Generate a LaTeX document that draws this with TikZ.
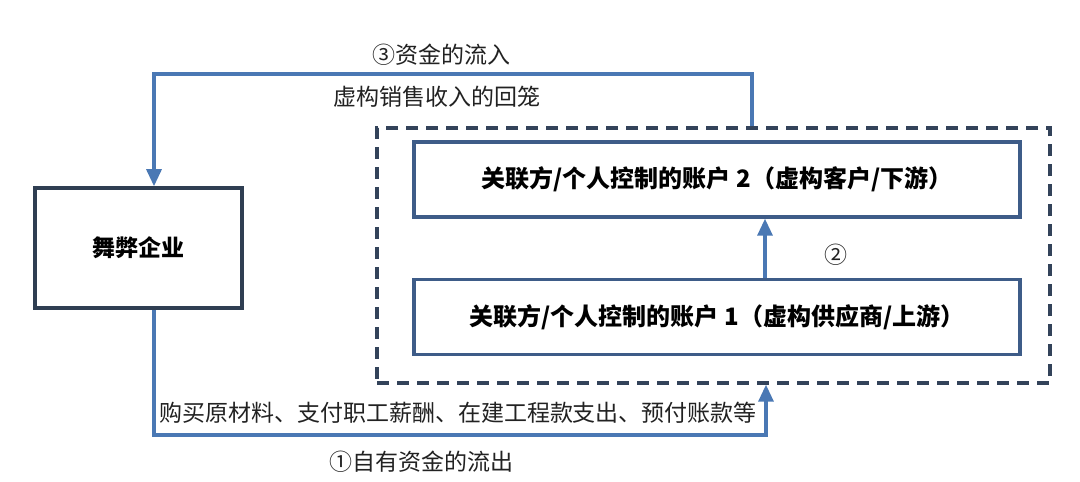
\documentclass[tikz,border=0pt]{standalone}
\usepackage{fontspec}
\newfontfamily\cjk{Noto Sans CJK SC}
\usetikzlibrary{arrows.meta}
\definecolor{flowblue}{HTML}{4A78B4}
\definecolor{navy}{HTML}{2F3E52}
\definecolor{boxblue}{HTML}{3E5C88}
\definecolor{dashnavy}{HTML}{33435A}
\definecolor{txt}{HTML}{222222}
\tikzset{
  flow/.style={draw=flowblue, line width=3.2pt},
  tip/.style={-{Triangle[width=15pt,length=17pt]}},
  entbox/.style={draw=navy, line width=3.6pt, minimum width=207pt, minimum height=120pt, inner sep=0pt, font=\cjk\bfseries\fontsize{23}{28}\selectfont, text=black},
  accbox/.style={draw=boxblue, line width=3.4pt, minimum width=606pt, minimum height=75pt, inner sep=0pt, font=\cjk\bfseries\fontsize{24}{28}\selectfont, text=black},
  grpbox/.style={draw=dashnavy, line width=3.4pt, dash pattern=on 12pt off 8pt, minimum width=673pt, minimum height=255pt, inner sep=0pt},
  lbl/.style={font=\cjk\fontsize{23}{28}\selectfont, text=txt, inner sep=0pt}
}
\begin{document}
\begin{tikzpicture}[x=1pt,y=-1pt]
\useasboundingbox[fill=white] (0,0) rectangle (1080,482);
\node[grpbox] (grp) at (713.5,255.5) {};
\node[entbox] (ent) at (138.5,248) {舞弊企业};
\node[accbox] (b2) at (717,179.5) {关联方/个人控制的账户 2（虚构客户/下游）};
\node[accbox] (b1) at (717,317) {关联方/个人控制的账户 1（虚构供应商/上游）};
\coordinate (a2) at (765,0);
\draw[flow,tip] (b1.north -| a2) -- (b2.south -| a2);
\node[lbl] (n2) at (836,255) {②};
\coordinate (c3) at (752,74);
\coordinate (c1) at (154,74);
\draw[flow,tip] (grp.north -| c3) -- (c3) -- (c1) -- (ent.north -| c1);
\node[lbl] (t3a) at (441,55) {③资金的流入};
\node[lbl] (t3b) at (437,97) {虚构销售收入的回笼};
\coordinate (d1) at (154,435);
\coordinate (d2) at (766,435);
\draw[flow,tip] (ent.south -| d1) -- (d1) -- (d2) -- (grp.south -| d2);
\node[lbl] (t1a) at (458,413) {购买原材料、支付职工薪酬、在建工程款支出、预付账款等};
\node[lbl] (t1b) at (421,462) {①自有资金的流出};
\end{tikzpicture}
\end{document}
